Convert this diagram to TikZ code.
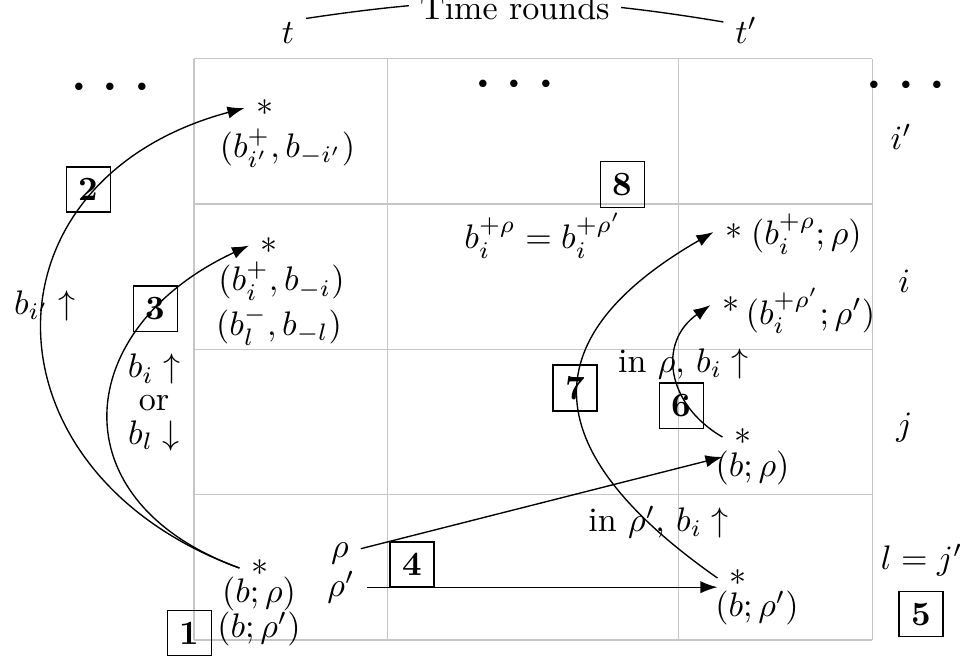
\documentclass[tikz,border=0pt]{standalone}
\usepackage{amsmath}
\usepackage{amssymb}
\usepackage{tikz}
\usetikzlibrary{arrows.meta}

\begin{document}
\begin{tikzpicture}[
    numbox/.style={draw, font=\bfseries, minimum size=13pt},
    arrow/.style={-{Latex[length=5pt, width=3.6pt]}},
    gridline/.style={gray!45},
    dots/.style={font=\huge}
]
\useasboundingbox (-2.002,-0.217) rectangle (7.926,6.605);

% Grid of rounds and players
\foreach \y in {0,1.5,3,4.5,6}
    \draw[gridline] (0,\y) -- (7,\y);
\foreach \x in {0,2,5,7}
    \draw[gridline] (\x,0) -- (\x,6);

% Time axis
\node[anchor=base] (t) at (0.97,6.16) {$t$};
\node[anchor=base] (tp) at (5.70,6.16) {$t'$};
\draw (t.38) to[bend left=9] node[fill=white, yshift=-2pt] (time) {Time rounds} (tp.160);

% Dots
\node[dots] (dotsl) at (-0.80,5.693) {$\cdots$};
\node[dots] (dotsm) at (3.37,5.717) {$\cdots$};
\node[dots] (dotsr) at (7.41,5.706) {$\cdots$};

% Players
\node (pip) at (7.30,5.19) {$i'$};
\node (pi) at (7.33,3.70) {$i$};
\node (pj) at (7.33,2.19) {$j$};
\node (pl) at (7.51,0.826) {$l = j'$};

% Steps
\node[numbox] (n1) at (-0.046,0.072) {1};
\node[numbox] (n2) at (-1.089,4.65) {2};
\node[numbox] (n3) at (-0.397,3.421) {3};
\node[numbox] (n4) at (2.25,0.779) {4};
\node[numbox] (n5) at (7.503,0.268) {5};
\node[numbox] (n6) at (5.031,2.418) {6};
\node[numbox] (n7) at (3.932,2.60) {7};
\node[numbox] (n8) at (4.422,4.701) {8};

% Profiles at t
\node (s0) at (0.681,0.743) {$*$};
\node (b0) at (0.671,0.475) {$(b;\rho)$};
\node (b0p) at (0.671,0.114) {$(b;\rho')$};
\node (s1) at (0.733,5.49) {$*$};
\node (d1) at (0.965,5.077) {$(b_{i'}^{+}, b_{-i'})$};
\node (s2) at (0.779,4.071) {$*$};
\node (d2) at (0.903,3.705) {$(b_i^{+}, b_{-i})$};
\node (d3) at (0.877,3.24) {$(b_l^{-}, b_{-l})$};

% Perturbations
\node (rho) at (1.507,0.888) {$\rho$};
\node (rhop) at (1.517,0.545) {$\rho'$};

% Profiles at t'
\node (sj) at (5.666,2.095) {$*$};
\node (dj) at (5.764,1.78) {$(b;\rho)$};
\node (sl) at (5.614,0.64) {$*$};
\node (dl) at (5.81,0.33) {$(b;\rho')$};
\node (sr) at (5.573,4.21) {$*$};
\node (dr) at (6.32,4.19) {$(b_i^{+\rho};\rho)$};
\node (srp) at (5.542,3.457) {$*$};
\node (drp) at (6.362,3.395) {$(b_i^{+\rho'};\rho')$};

% Labels
\node (lbi) at (-1.538,3.447) {$b_{i'}\uparrow$};
\node (lor) at (-0.413,2.45) {\shortstack{$b_i\uparrow$\\or\\$b_l\downarrow$}};
\node (eq) at (3.603,4.174) {$b_i^{+\rho} = b_i^{+\rho'}$};
\node (inr) at (5.05,2.85) {in $\rho$, $b_i\uparrow$};
\node (inrp) at (4.794,1.218) {in $\rho'$, $b_i\uparrow$};

% Arrows
\draw[arrow] (s0.west) to[out=160, in=195, looseness=1.55] (s1.west);
\draw[arrow] (s0.west) to[out=160, in=205, looseness=1.55] (s2.west);
\draw[arrow] (rho) -- (sj.south west);
\draw[arrow] (rhop.east) -- (rhop.east -| sl.west);
\draw[arrow] (sj.west) to[out=150, in=215, looseness=1.25] (srp.west);
\draw[arrow] (sl.west) to[out=145, in=210, looseness=1.6] (sr.west);

\end{tikzpicture}
\end{document}
